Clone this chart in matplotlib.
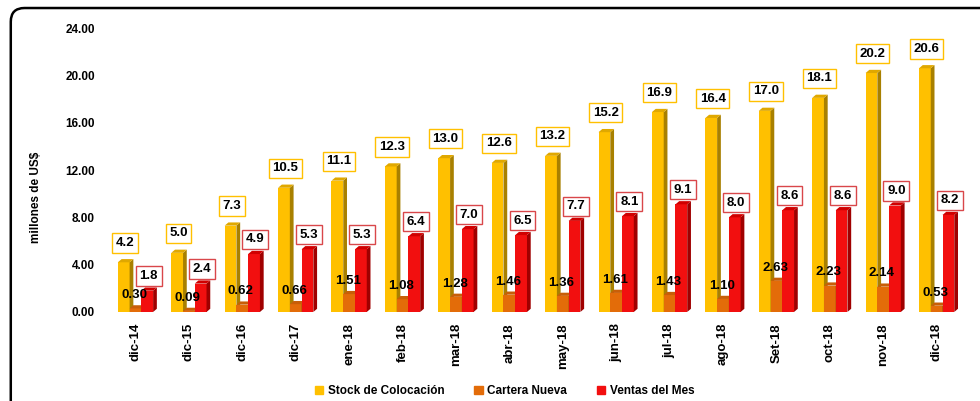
import matplotlib.pyplot as plt
from matplotlib.patches import Polygon, FancyBboxPatch

categorias = ['dic-14', 'dic-15', 'dic-16', 'dic-17', 'ene-18', 'feb-18', 'mar-18', 'abr-18',
              'may-18', 'jun-18', 'jul-18', 'ago-18', 'Set-18', 'oct-18', 'nov-18', 'dic-18']
stock = [4.2, 5.0, 7.3, 10.5, 11.1, 12.3, 13.0, 12.6, 13.2, 15.2, 16.9, 16.4, 17.0, 18.1, 20.2, 20.6]
cartera = [0.30, 0.09, 0.62, 0.66, 1.51, 1.08, 1.28, 1.46, 1.36, 1.61, 1.43, 1.10, 2.63, 2.23, 2.14, 0.53]
ventas = [1.8, 2.4, 4.9, 5.3, 5.3, 6.4, 7.0, 6.5, 7.7, 8.1, 9.1, 8.0, 8.6, 8.6, 9.0, 8.2]
yticks = [0, 4, 8, 12, 16, 20, 24]

plt.rcParams['font.family'] = ['Liberation Sans', 'DejaVu Sans']

fig = plt.figure(figsize=(9.8, 4.01), dpi=100)
ax = fig.add_axes([0.111, 0.222, 0.872, 0.708])

# marco redondeado (cortado a la derecha y abajo, como en el original)
fig.patches.append(FancyBboxPatch((0.011, -0.2), 1.2, 1.18, boxstyle='round,pad=0,rounding_size=0.014',
                                  transform=fig.transFigure, fill=False, lw=1.8, ec='black',
                                  mutation_aspect=980 / 401))

x = list(range(len(categorias)))
w = 0.22
dx, dy = 0.07, 0.27

series = [
    (stock, -w, '#FFC000', '#A88000', '#E0A800'),
    (cartera, 0, '#E36C09', '#9A4A06', '#C85E08'),
    (ventas, w, '#F20F0F', '#A00000', '#D00000'),
]

for vals, off, front, side, top in series:
    bars = ax.bar([i + off for i in x], vals, width=w, color=front, zorder=3)
    for b in bars:
        x0, x1, h = b.get_x(), b.get_x() + b.get_width(), b.get_height()
        ax.add_patch(Polygon([(x1, 0), (x1 + dx, dy), (x1 + dx, h + dy), (x1, h)],
                             closed=True, fc=side, ec='none', zorder=3))
        ax.add_patch(Polygon([(x0, h), (x0 + dx, h + dy), (x1 + dx, h + dy), (x1, h)],
                             closed=True, fc=top, ec='none', zorder=3))

for i in x:
    ax.annotate(f'{stock[i]:.1f}', (i - w, stock[i]), xytext=(1, 14), textcoords='offset points',
                ha='center', va='center', fontsize=9.5, fontweight='bold', zorder=5,
                bbox=dict(boxstyle='square,pad=0.28', fc='white', ec='#FFC000', lw=1))
    ax.annotate(f'{ventas[i]:.1f}', (i + w, ventas[i]), xytext=(1, 10.5), textcoords='offset points',
                ha='center', va='center', fontsize=9.5, fontweight='bold', zorder=5,
                bbox=dict(boxstyle='square,pad=0.28', fc='white', ec='#D9474A', lw=1))
    ax.annotate(f'{cartera[i]:.2f}', (i, cartera[i]), xytext=(-1, 9.5), textcoords='offset points',
                ha='center', va='center', fontsize=9.5, fontweight='bold', zorder=6)

ax.set_xlim(-0.5, len(categorias) - 0.5)
ax.set_ylim(0, 24)
ax.set_yticks(yticks)
ax.set_yticklabels([f'{t:.2f}' for t in yticks], fontsize=8.5, fontweight='bold')
ax.set_xticks(x)
ax.set_xticklabels(categorias, rotation=90, fontsize=9.5, fontweight='bold')
ax.tick_params(axis='y', length=0, pad=10)
ax.tick_params(axis='x', length=0, pad=8)
for s in ax.spines.values():
    s.set_visible(False)
ax.set_ylabel('millones de US$', fontsize=8.5, fontweight='bold')
ax.yaxis.set_label_coords(-0.078, 0.405)

handles = [plt.Rectangle((0, 0), 1, 1, color=c) for c in ['#FFC000', '#E36C09', '#F20F0F']]
fig.legend(handles, ['Stock de Colocación', 'Cartera Nueva', 'Ventas del Mes'],
           loc='center', bbox_to_anchor=(0.515, 0.025), ncol=3, frameon=False,
           prop={'size': 8.5, 'weight': 'bold'}, handlelength=0.7, handleheight=0.7,
           handletextpad=0.4, columnspacing=2.5)

fig.savefig('out.png', dpi=100)
